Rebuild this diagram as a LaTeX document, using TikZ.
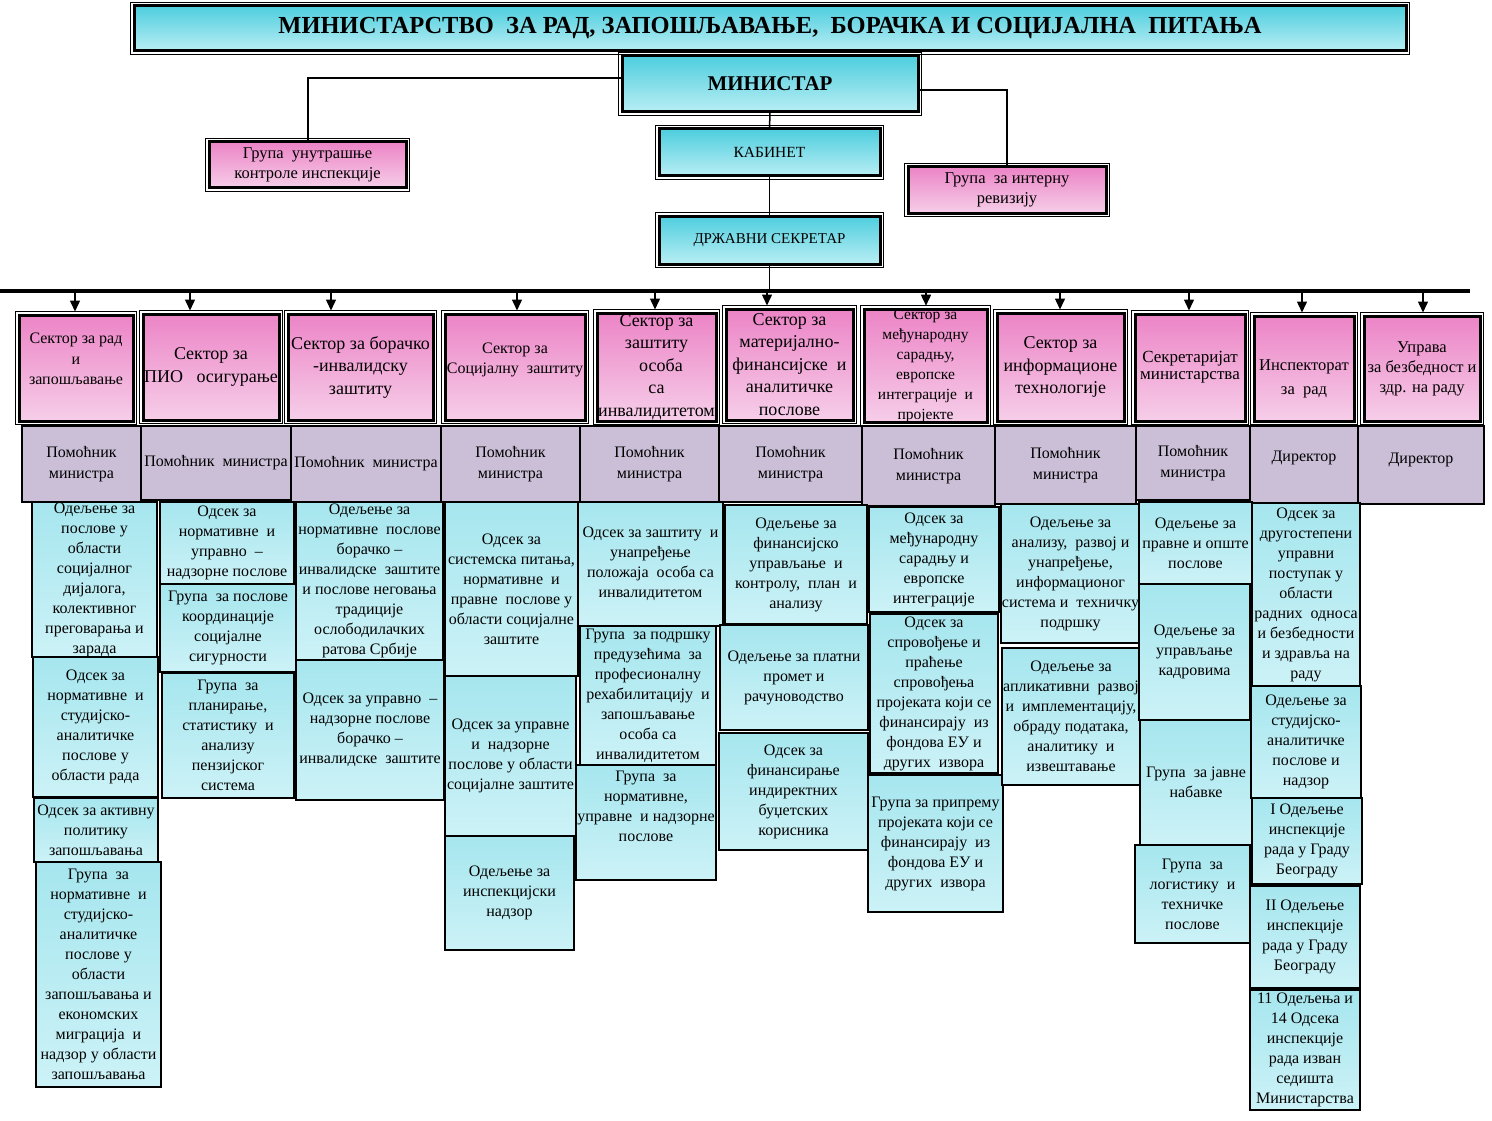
\documentclass[tikz,border=0pt]{standalone}
\usepackage{fontspec}
\setmainfont{Liberation Serif}
\usetikzlibrary{arrows.meta, positioning}

\definecolor{titleTop}{RGB}{78,206,222}
\definecolor{titleBot}{RGB}{185,238,244}
\definecolor{cellTop}{RGB}{166,230,238}
\definecolor{cellBot}{RGB}{204,242,247}
\definecolor{pinkTop}{RGB}{236,132,198}
\definecolor{pinkBot}{RGB}{246,206,233}
\definecolor{helperFill}{RGB}{203,191,216}

% box from corner (x1,y1) to corner (x2,y2), in pixels of the chart
\newcommand{\orgbox}[7][cell]{%
  \pgfmathsetmacro{\obW}{#5-#3}%
  \pgfmathsetmacro{\obH}{#6-#4}%
  \pgfmathsetmacro{\obX}{(#3+#5)/2}%
  \pgfmathsetmacro{\obY}{(#4+#6)/2}%
  \node[#1, minimum width=\obW pt, minimum height=\obH pt] (#2) at (\obX,\obY) {#7};}

\begin{document}
\begin{tikzpicture}[x=1pt, y=-1pt,
    every node/.style={align=center, inner sep=0pt},
    framed/.style={outer sep=0pt, append after command={\pgfextra{%
        \draw[line width=1pt] ([xshift=-3.5pt,yshift=-3.5pt]\tikzlastnode.south west)
            rectangle ([xshift=3.5pt,yshift=3.5pt]\tikzlastnode.north east);}}},
    titlebox/.style={draw, line width=3pt, framed, top color=titleTop, bottom color=titleBot},
    groupbox/.style={draw, line width=3pt, framed, top color=pinkTop, bottom color=pinkBot,
        font=\fontsize{16.5}{20}\selectfont},
    sector/.style={draw, line width=3pt, framed, top color=pinkTop, bottom color=pinkBot,
        font=\fontsize{18}{22.5}\selectfont},
    smallsector/.style={sector, font=\fontsize{16}{20.5}\selectfont},
    helper/.style={draw, line width=2.5pt, fill=helperFill, font=\fontsize{16}{21}\selectfont},
    cell/.style={draw, line width=2.5pt, top color=cellTop, bottom color=cellBot,
        font=\fontsize{16}{20}\selectfont},
    link/.style={line width=2pt},
    feed/.style={line width=1.5pt, -{Triangle[width=10pt,length=11pt]}},
]
\useasboundingbox (0,0) rectangle (1492,1121);

% top of the chart
\orgbox[titlebox, font=\fontsize{21}{24}\selectfont\bfseries]{minister}{622}{56}{918}{112}{МИНИСТАР}
\orgbox[titlebox, font=\fontsize{24.5}{28}\selectfont\bfseries]{title}{134}{6}{1406}{51}{МИНИСТАРСТВО\ \ ЗА РАД, ЗАПОШЉАВАЊЕ,\ \ БОРАЧКА И СОЦИЈАЛНА\ \ ПИТАЊА}
\orgbox[groupbox]{gik}{209}{142}{406}{188}{Група\ \ унутрашње\\контроле инспекције}
\orgbox[groupbox]{gir}{908}{167}{1106}{213}{Група\ \ за интерну\\ревизију}
\orgbox[titlebox, font=\fontsize{15.5}{18}\selectfont]{cab}{659}{129}{880}{176}{КАБИНЕТ}
\orgbox[titlebox, font=\fontsize{15}{18}\selectfont]{dsec}{659}{216}{880}{264}{ДРЖАВНИ СЕКРЕТАР}

\draw[link] ([yshift=6pt]minister.west) -| (gik.north);
\draw[link] ([yshift=-6pt]minister.east) -| (gir.north);
\draw[line width=1.5pt] (minister.south) -- (cab.north);
\draw[line width=1.5pt] (cab.south) -- (dsec.north);

% sectors
\orgbox[smallsector]{s1}{19}{315}{133}{421}{Сектор за рад\\и\\запошљавање\\[-2pt]}
\orgbox[sector]{s2}{143}{314}{279}{420}{Сектор за\\ПИО\ \ \ осигурање}
\orgbox[sector]{s3}{288}{314}{433}{420}{Сектор за борачко\\-инвалидску\\заштиту}
\orgbox[smallsector]{s4}{445}{314}{585}{420}{Сектор за\\Социјалну\ \ заштиту\\[-3pt]}
\orgbox[sector]{s5}{597}{313}{716}{421}{Сектор за\\заштиту\\\ \ особа\\са\\инвалидитетом}
\orgbox[sector]{s6}{726}{309}{853}{420}{Сектор за\\материјално-\\финансијске\ \ и\\аналитичке\\послове}
\orgbox[smallsector, font=\fontsize{15.5}{20}\selectfont]{s7}{864}{311}{987}{421}{Сектор за\\међународну\\сарадњу,\\европске\\интеграције\ \ и\\пројекте}
\orgbox[sector]{s8}{997}{313}{1124}{421}{Сектор за\\информационе\\технологије}
\orgbox[smallsector, font=\fontsize{17}{17}\selectfont]{s9}{1135}{314}{1245}{421}{Секретаријат\\министарства}
\orgbox[smallsector, font=\fontsize{16.5}{24}\selectfont]{s10}{1254}{316}{1354}{421}{\\[8pt]Инспекторат\\за\ \ рад}
\orgbox[smallsector, font=\fontsize{16.5}{20}\selectfont]{s11}{1364}{316}{1480}{421}{Управа\\за безбедност и\\здр. на раду}

% bus from the state secretary to the sectors
\coordinate (busL) at (0,291);
\coordinate (busR) at (1470,291);
\draw[line width=3.5pt] (busL) -- (busR);
\draw[line width=1.5pt] (dsec.south) -- (dsec.south |- busL);
\foreach \s/\dx in {s1/-1, s2/-21, s3/-29.5, s4/2, s5/-1.5, s6/-22.5, s7/0.5, s8/-0.5, s9/-1, s10/-2, s11/1}
    \draw[feed] ([xshift=\dx pt]\s.north |- busL) -- ([xshift=\dx pt, yshift=3.5pt]\s.north);

% assistants and directors
\orgbox[helper]{h1}{22}{426}{141}{502}{Помоћник\\министра}
\orgbox[helper]{h2}{141}{426}{291}{500}{Помоћник\ \ министра}
\orgbox[helper]{h3}{291}{426}{441}{502}{Помоћник\ \ министра}
\orgbox[helper]{h4}{441}{426}{580}{502}{Помоћник\\министра}
\orgbox[helper]{h5}{580}{426}{719}{502}{Помоћник\\министра}
\orgbox[helper]{h6}{719}{426}{862}{502}{Помоћник\\министра}
\orgbox[helper]{h7}{862}{426}{995}{506}{Помоћник\\министра}
\orgbox[helper]{h8}{995}{426}{1136}{504}{Помоћник\\министра}
\orgbox[helper]{h9}{1136}{426}{1250}{500}{Помоћник\\министра}
\orgbox[helper]{h10}{1250}{426}{1358}{506}{Директор\\[-2pt]}
\orgbox[helper]{h11}{1358}{426}{1484}{504}{Директор\\[-8pt]}

% column 1
\orgbox{c1a}{32}{502}{157}{657}{Одељење за\\послове у\\области\\социјалног\\дијалога,\\колективног\\преговарања и\\зарада}
\orgbox{c1b}{33}{657}{158}{797}{Одсек за\\нормативне\ \ и\\студијско-\\аналитичке\\послове у\\области рада}
\orgbox{c1c}{34}{798}{158}{862}{Одсек за активну\\политику\\запошљавања}
\orgbox{c1d}{36}{862}{161}{1087}{Група\ \ за\\нормативне\ \ и\\студијско-\\аналитичке\\послове у\\области\\запошљавања и\\економских\\миграција\ \ и\\надзор у области\\запошљавања}

% column 2
\orgbox{c2a}{160}{502}{294}{584}{Одсек за\\нормативне\ \ и\\управно\ \ –\\надзорне послове}
\orgbox{c2b}{160}{584}{296}{672}{Група\ \ за послове\\координације\\социјалне\\сигурности}
\orgbox{c2c}{162}{673}{294}{798}{Група\ \ за\\планирање,\\статистику\ \ и\\анализу\\пензијског\\система}

% column 3
\orgbox{c3a}{296}{502}{443}{660}{Одељење за\\нормативне\ \ послове\\борачко –\\инвалидске\ \ заштите\\и послове неговања\\традиције\\ослободилачких\\ратова Србије}
\orgbox{c3b}{296}{660}{444}{800}{Одсек за управно\ \ –\\надзорне послове\\борачко –\\инвалидске\ \ заштите}

% column 4
\orgbox{c4a}{445}{502}{578}{676}{Одсек за\\системска питања,\\нормативне\ \ и\\правне\ \ послове у\\области социјалне\\заштите}
\orgbox{c4b}{445}{676}{576}{836}{Одсек за управне\\и\ \ надзорне\\послове у области\\социјалне заштите}
\orgbox{c4c}{445}{836}{574}{950}{Одељење за\\инспекцијски\\надзор}

% column 5
\orgbox{c5a}{578}{502}{723}{626}{Одсек за заштиту\ \ и\\унапређење\\положаја\ \ особа са\\инвалидитетом}
\orgbox{c5b}{580}{626}{716}{765}{Група\ \ за подршку\\предузећима\ \ за\\професионалну\\рехабилитацију\ \ и\\запошљавање\\особа са\\инвалидитетом}
\orgbox{c5c}{576}{765}{716}{880}{Група\ \ за\\нормативне,\\управне\ \ и надзорне\\послове\\[12pt]}

% column 6
\orgbox{c6a}{725}{505}{867}{624}{Одељење за\\финансијско\\управљање\ \ и\\контролу,\ \ план\ \ и\\анализу}
\orgbox{c6b}{720}{625}{868}{730}{Одељење за платни\\промет и\\рачуноводство}
\orgbox{c6c}{719}{733}{868}{850}{Одсек за\\финансирање\\индиректних\\буџетских\\корисника}

% column 7
\orgbox{c7a}{869}{507}{999}{612}{Одсек за\\међународну\\сарадњу и\\европске\\интеграције}
\orgbox{c7b}{870}{614}{998}{773}{Одсек за\\спровођење и\\праћење\\спровођења\\пројеката који се\\финансирају\ \ из\\фондова ЕУ и\\других\ \ извора}
\orgbox{c7c}{868}{775}{1003}{912}{Група за припрему\\пројеката који се\\финансирају\ \ из\\фондова ЕУ и\\других\ \ извора}

% column 8
\orgbox{c8a}{1001}{504}{1140}{643}{Одељење за\\анализу,\ \ развој и\\унапређење,\\информационог\\система и\ \ техничку\\подршку}
\orgbox{c8b}{1002}{648}{1140}{785}{Одељење за\\апликативни\ \ развој\\и\ \ имплементацију,\\обраду података,\\аналитику\ \ и\\извештавање}

% column 9
\orgbox{c9a}{1139}{502}{1252}{584}{Одељење за\\правне и опште\\послове}
\orgbox{c9b}{1139}{584}{1250}{720}{Одељење за\\управљање\\кадровима}
\orgbox{c9c}{1140}{720}{1252}{845}{Група\ \ за јавне\\набавке}
\orgbox{c9d}{1135}{845}{1250}{943}{Група\ \ за\\логистику\ \ и\\техничке\\послове}

% column 10
\orgbox{c10a}{1252}{503}{1360}{686}{Одсек за\\другостепени\\управни\\поступак у\\области\\радних\ \ односа\\и безбедности\\и здравља на\\раду}
\orgbox{c10b}{1251}{686}{1361}{798}{Одељење за\\студијско-\\аналитичке\\послове и\\надзор}
\orgbox{c10c}{1252}{798}{1362}{884}{I Одељење\\инспекције\\рада у Граду\\Београду}
\orgbox{c10d}{1250}{886}{1360}{988}{II Одељење\\инспекције\\рада у Граду\\Београду}
\orgbox{c10e}{1250}{990}{1360}{1110}{11 Одељења и\\14 Одсека\\инспекције\\рада изван\\седишта\\Министарства}

\end{tikzpicture}
\end{document}
